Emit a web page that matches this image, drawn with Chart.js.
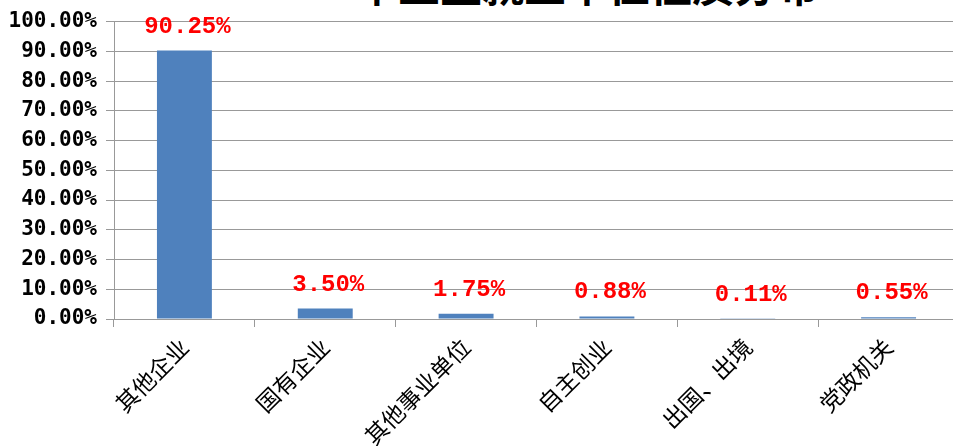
<!DOCTYPE html>
<html>
<head>
<meta charset="utf-8">
<script src="https://cdn.jsdelivr.net/npm/chart.js@4.4.0/dist/chart.umd.min.js"></script>
<style>
  html, body { margin: 0; padding: 0; background: #fff; overflow: hidden; }
  body { width: 953px; height: 446px; position: relative; }
  #title {
    position: absolute; top: -47px; left: 356px; white-space: nowrap;
    font: bold 42px "Noto Sans CJK SC", sans-serif; color: #000;
  }
  #wrap { position: absolute; left: 0; top: 0; width: 960px; height: 446px; }
</style>
</head>
<body>
<div id="title">毕业生就业单位性质分布</div>
<div id="wrap"><canvas id="chart"></canvas></div>
<script>
const categories = ["其他企业", "国有企业", "其他事业单位", "自主创业", "出国、出境", "党政机关"];
const shares = [90.25, 3.50, 1.75, 0.88, 0.11, 0.55];
const yTicks = [0, 10, 20, 30, 40, 50, 60, 70, 80, 90, 100];

// red value labels above the bars
const valueLabels = {
  id: "valueLabels",
  afterDatasetsDraw(chart) {
    const ctx = chart.ctx;
    const meta = chart.getDatasetMeta(0);
    ctx.save();
    ctx.fillStyle = "#ff0000";
    ctx.font = "bold 24px 'Liberation Mono', monospace";
    ctx.textAlign = "center";
    ctx.textBaseline = "middle";
    meta.data.forEach((bar, i) => {
      ctx.fillText(shares[i].toFixed(2) + "%", bar.x + 3, bar.y - 24);
    });
    ctx.restore();
  }
};

new Chart(document.getElementById("chart"), {
  type: "bar",
  plugins: [valueLabels],
  data: {
    labels: categories,
    datasets: [{
      data: shares,
      backgroundColor: "#4f81bd",
      categoryPercentage: 1,
      barPercentage: 0.39
    }]
  },
  options: {
    responsive: true,
    maintainAspectRatio: false,
    animation: false,
    layout: { padding: { top: 21, right: 1, left: 0, bottom: 0 } },
    plugins: { legend: { display: false }, tooltip: { enabled: false } },
    scales: {
      x: {
        grid: { drawOnChartArea: false, color: "#999", tickLength: 8, offset: true },
        border: { color: "#999" },
        ticks: {
          color: "#000",
          font: { family: "'Noto Sans CJK SC', sans-serif", size: 23 },
          maxRotation: 45, minRotation: 45, padding: 6
        },
        afterFit(scale) { scale.height = 127; }
      },
      y: {
        min: 0, max: 100,
        afterBuildTicks(scale) { scale.ticks = yTicks.map(v => ({ value: v })); },
        grid: { color: "#999", tickLength: 8 },
        border: { color: "#999" },
        ticks: {
          color: "#000",
          padding: 9,
          font: { family: "'DejaVu Sans Mono', monospace", size: 21, weight: "bold" },
          callback: v => v.toFixed(2) + "%"
        },
        afterFit(scale) { scale.width = 114; }
      }
    }
  }
});
</script>
</body>
</html>
